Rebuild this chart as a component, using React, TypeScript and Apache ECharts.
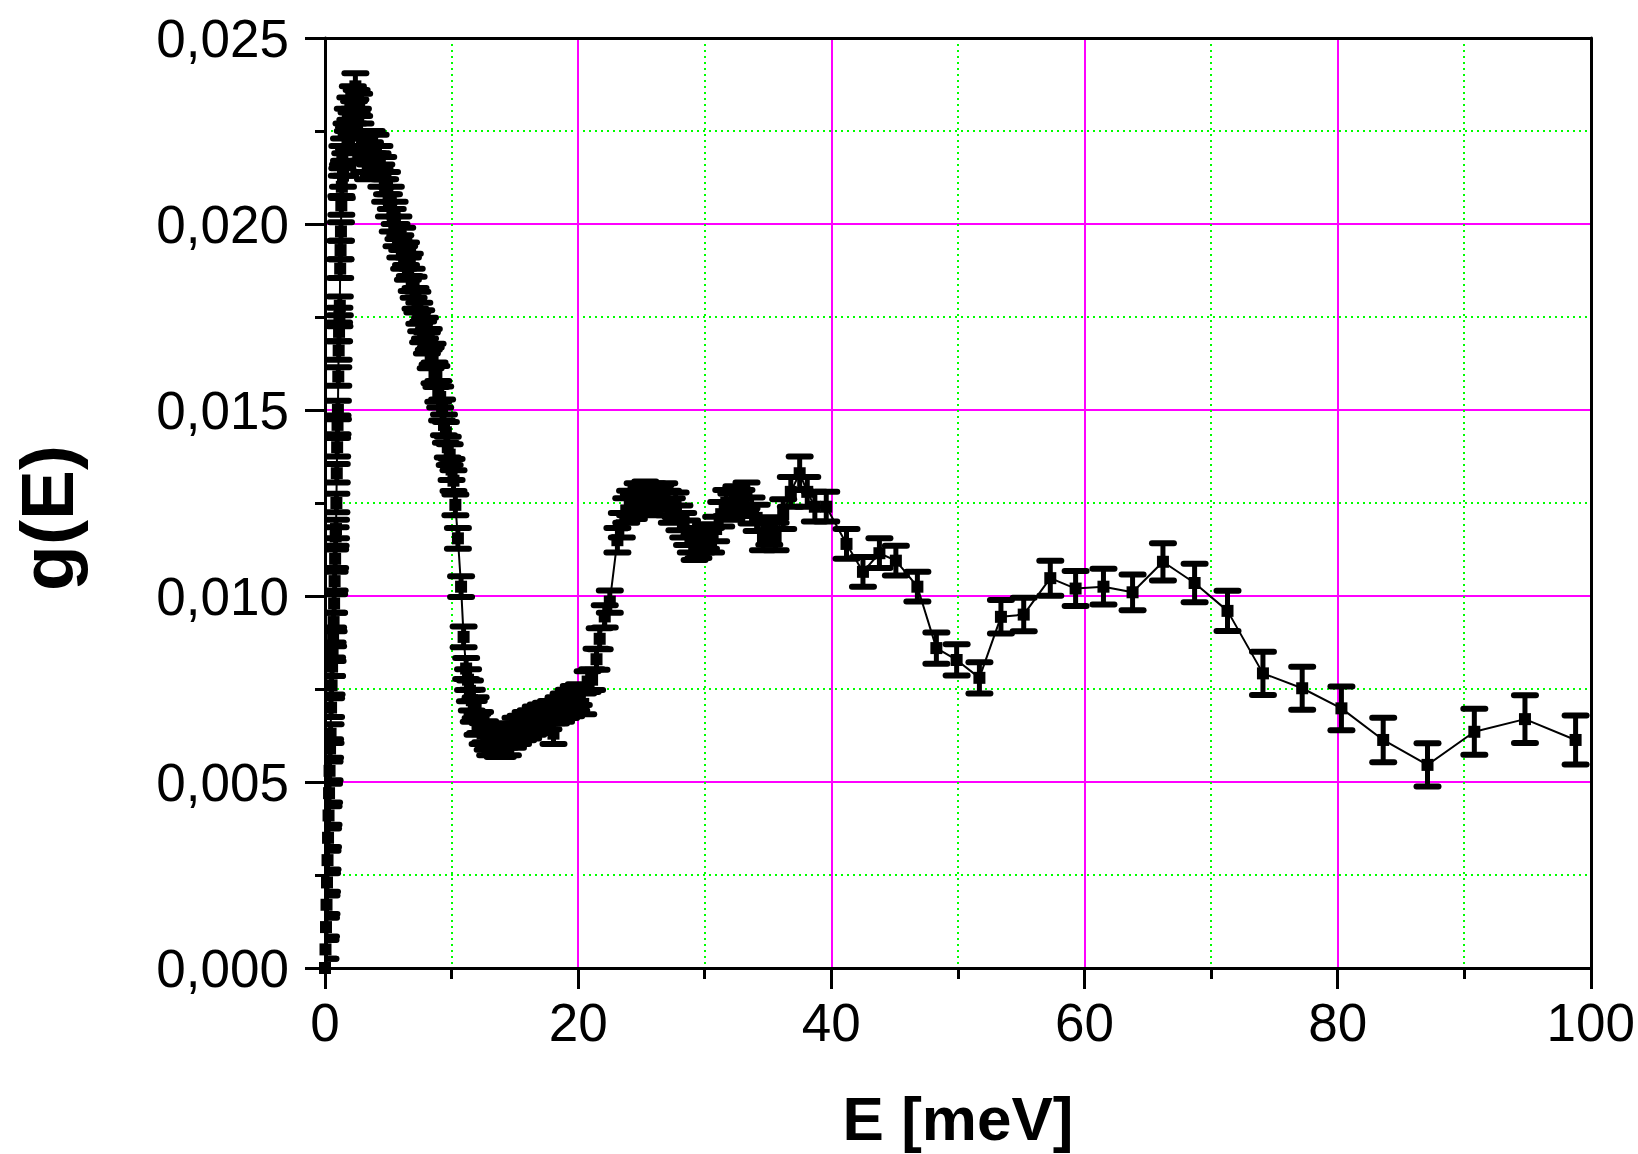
import React, { useEffect, useRef } from "react";
import * as echarts from "echarts";

// [E (meV), g(E), error]
const riseSeg: number[][] = [
  [0.0, 0.0, 0.00025], [0.04, 0.0005, 0.00025], [0.08, 0.0011, 0.00025], [0.12, 0.0017, 0.00025],
  [0.16, 0.0023, 0.00025], [0.2, 0.0029, 0.00025], [0.24, 0.0035, 0.00025], [0.28, 0.0041, 0.00025],
  [0.32, 0.0047, 0.00025], [0.36, 0.0053, 0.00025], [0.4, 0.0059, 0.00025], [0.44, 0.0063, 0.00025],
  [0.48, 0.007, 0.00025], [0.52, 0.0076, 0.00025], [0.56, 0.0081, 0.00025], [0.6, 0.0085, 0.00025],
  [0.64, 0.0089, 0.00025], [0.68, 0.0093, 0.00025], [0.72, 0.0098, 0.00025], [0.76, 0.0104, 0.00025],
  [0.8, 0.011, 0.00025], [0.84, 0.0116, 0.00025], [0.87, 0.0118, 0.00025], [0.9, 0.0125, 0.00025],
  [0.93, 0.0133, 0.00025], [0.96, 0.014, 0.00025], [0.99, 0.0146, 0.00025], [1.02, 0.015, 0.00025],
  [1.05, 0.0159, 0.00025], [1.08, 0.0166, 0.00025], [1.11, 0.0171, 0.00025], [1.14, 0.0175, 0.00025],
  [1.17, 0.0178, 0.00025], [1.2, 0.0188, 0.00025], [1.23, 0.0193, 0.00025], [1.26, 0.0198, 0.00025],
  [1.29, 0.0205, 0.00025],
];

const peakSeg: number[][] = [
  [1.33, 0.021, 0.0003], [1.37, 0.0218, 0.0003], [1.42, 0.0213, 0.0003], [1.5, 0.022, 0.0003],
  [1.6, 0.0216, 0.0003], [1.7, 0.0224, 0.0003], [1.8, 0.0228, 0.0003], [1.9, 0.0223, 0.0003],
  [2.0, 0.0231, 0.0003], [2.1, 0.0227, 0.0003], [2.2, 0.0234, 0.0003], [2.3, 0.023, 0.0003],
  [2.4, 0.0237, 0.00035], [2.5, 0.0233, 0.0003], [2.6, 0.0228, 0.0003], [2.7, 0.0232, 0.0003],
  [2.8, 0.0224, 0.0003], [2.95, 0.022, 0.0003], [3.1, 0.0217, 0.0003], [3.25, 0.0221, 0.0003],
  [3.4, 0.0215, 0.0003], [3.55, 0.0219, 0.0003], [3.7, 0.0222, 0.0003], [3.85, 0.0216, 0.0003],
  [4.0, 0.0221, 0.0003], [4.15, 0.0216, 0.0003], [4.3, 0.0218, 0.0003], [4.45, 0.0213, 0.0003],
  [4.6, 0.0215, 0.0003], [4.75, 0.0209, 0.0003], [4.9, 0.0211, 0.0003], [5.05, 0.0205, 0.0003],
  [5.2, 0.0207, 0.0003], [5.35, 0.0201, 0.0003], [5.5, 0.0203, 0.0003], [5.65, 0.0197, 0.0003],
  [5.8, 0.0199, 0.0003], [5.95, 0.0194, 0.0003], [6.1, 0.0196, 0.0003], [6.25, 0.0191, 0.0003],
  [6.4, 0.0192, 0.0003], [6.55, 0.0188, 0.0003], [6.7, 0.0189, 0.0003], [6.85, 0.0185, 0.0003],
];

const descentSeg: number[][] = [
  [7.0, 0.0183, 0.00028], [7.15, 0.018, 0.00028], [7.3, 0.0179, 0.00028], [7.45, 0.0176, 0.00028],
  [7.6, 0.0174, 0.00028], [7.75, 0.0171, 0.00028], [7.9, 0.0172, 0.00028], [8.05, 0.0168, 0.00028],
  [8.2, 0.0169, 0.00028], [8.35, 0.0164, 0.00028], [8.5, 0.0165, 0.00028], [8.65, 0.016, 0.00028],
  [8.8, 0.0159, 0.00028], [8.95, 0.0155, 0.00028], [9.1, 0.01535, 0.00028], [9.25, 0.015, 0.00028],
  [9.4, 0.0146, 0.00028], [9.55, 0.0144, 0.00028], [9.7, 0.014, 0.00028], [9.85, 0.0138, 0.00028],
  [10.0, 0.0134, 0.00028], [10.15, 0.0131, 0.00028], [10.3, 0.01245, 0.00028], [10.5, 0.01155, 0.00028],
  [10.75, 0.01025, 0.00028], [10.95, 0.0089, 0.00028],
];

const valleySeg: number[][] = [
  [11.15, 0.00805, 0.00028], [11.3, 0.00775, 0.00028], [11.45, 0.00745, 0.00028], [11.6, 0.0072, 0.00028],
  [11.75, 0.0069, 0.00028], [11.9, 0.007, 0.00028], [12.05, 0.00655, 0.00028], [12.25, 0.0066, 0.00028],
  [12.45, 0.0063, 0.00028], [12.65, 0.00635, 0.00028], [12.85, 0.00615, 0.00028], [13.05, 0.006, 0.00028],
  [13.25, 0.0062, 0.00028], [13.45, 0.00605, 0.00028], [13.65, 0.00595, 0.00028], [13.85, 0.0061, 0.00028],
  [14.05, 0.00595, 0.00028], [14.25, 0.0062, 0.00028], [14.45, 0.006, 0.00028], [14.65, 0.0063, 0.00028],
  [14.85, 0.0062, 0.00028], [15.05, 0.00645, 0.00028], [15.25, 0.0063, 0.00028], [15.45, 0.0065, 0.00028],
  [15.65, 0.0064, 0.00028], [15.85, 0.0066, 0.00028], [16.05, 0.00645, 0.00028], [16.25, 0.00665, 0.00028],
  [16.45, 0.00655, 0.00028], [16.65, 0.00675, 0.00028], [16.85, 0.0066, 0.00028], [17.05, 0.0068, 0.00028],
  [17.25, 0.0067, 0.00028], [17.45, 0.00685, 0.00028], [17.65, 0.0067, 0.00028], [17.85, 0.0069, 0.00028],
  [18.05, 0.0063, 0.00028], [18.25, 0.00685, 0.00028], [18.45, 0.007, 0.00028], [18.65, 0.0069, 0.00028],
  [18.85, 0.0071, 0.00028], [19.05, 0.007, 0.00028], [19.25, 0.0072, 0.00028], [19.45, 0.00705, 0.00028],
  [19.65, 0.0073, 0.00028], [19.85, 0.0072, 0.00028], [20.05, 0.00735, 0.00028], [20.4, 0.0071, 0.00028],
  [20.75, 0.0077, 0.00028], [21.1, 0.00775, 0.00028], [21.45, 0.0083, 0.00028], [21.7, 0.00885, 0.00028],
  [22.1, 0.00945, 0.0003], [22.5, 0.00985, 0.0003],
];

const shoulderSeg: number[][] = [
  [23.1, 0.0115, 0.00033], [23.45, 0.0119, 0.00033], [23.8, 0.0123, 0.00033], [24.1, 0.0125, 0.00033],
  [24.4, 0.0124, 0.00033], [24.7, 0.0127, 0.00033], [25.0, 0.0126, 0.00033], [25.3, 0.01275, 0.00033],
  [25.6, 0.0126, 0.00033], [25.9, 0.0127, 0.00033], [26.2, 0.0125, 0.00033], [26.5, 0.01265, 0.00033],
  [26.8, 0.0127, 0.00033], [27.1, 0.0125, 0.00033], [27.4, 0.0123, 0.00033], [27.7, 0.01245, 0.00033],
  [28.0, 0.0121, 0.00033], [28.3, 0.0119, 0.00033], [28.6, 0.0117, 0.00033], [28.9, 0.0115, 0.00033],
  [29.2, 0.0113, 0.00033], [29.5, 0.01135, 0.00033], [29.8, 0.0115, 0.00033], [30.1, 0.0116, 0.00033],
  [30.5, 0.0115, 0.00033], [30.9, 0.0118, 0.00033], [31.3, 0.0122, 0.00033], [31.7, 0.0125, 0.00035],
  [32.1, 0.0124, 0.00035], [32.5, 0.0126, 0.00035], [32.9, 0.0125, 0.00035], [33.3, 0.0127, 0.00035],
  [33.7, 0.0123, 0.00035], [34.1, 0.0121, 0.00035], [34.6, 0.0116, 0.00037], [35.1, 0.01175, 0.00037],
  [35.6, 0.0116, 0.00037],
];

const secondPeakSeg: number[][] = [
  [36.2, 0.0122, 0.0004], [36.8, 0.0128, 0.0004], [37.5, 0.0133, 0.00045], [38.1, 0.0128, 0.0004],
  [38.7, 0.0124, 0.0004], [39.6, 0.0124, 0.0004], [41.2, 0.0114, 0.0004], [42.5, 0.01065, 0.0004],
  [43.8, 0.01115, 0.0004], [45.1, 0.01095, 0.0004], [46.8, 0.01025, 0.0004], [48.3, 0.0086, 0.00042],
  [49.9, 0.00828, 0.00042], [51.7, 0.0078, 0.00042],
];

const tailSeg: number[][] = [
  [53.4, 0.00944, 0.00045], [55.2, 0.0095, 0.00045], [57.3, 0.01048, 0.00047], [59.3, 0.0102, 0.00047],
  [61.5, 0.01025, 0.00048], [63.8, 0.0101, 0.00048], [66.2, 0.01092, 0.0005], [68.7, 0.01035, 0.00052],
  [71.3, 0.0096, 0.00054], [74.1, 0.00792, 0.00058], [77.2, 0.00752, 0.00058], [80.3, 0.00698, 0.00059],
  [83.6, 0.00613, 0.0006], [87.1, 0.00546, 0.00058], [90.8, 0.00635, 0.00062], [94.8, 0.00669, 0.00064],
  [98.8, 0.00613, 0.00066],
];

const xTicks = { min: 0, max: 100, interval: 20 };
const yTicks = { min: 0, max: 0.025, interval: 0.005 };

const FONT = "'Liberation Sans', Arial, Helvetica, sans-serif";

export default function App() {
  const ref = useRef<HTMLDivElement>(null);

  useEffect(() => {
    document.body.style.margin = "0";
    if (!ref.current) return;
    const chart = echarts.init(ref.current, undefined, { renderer: "svg" });

    const allPoints = [
      ...riseSeg,
      ...peakSeg,
      ...descentSeg,
      ...valleySeg,
      ...shoulderSeg,
      ...secondPeakSeg,
      ...tailSeg,
    ];
    const lineData = allPoints.map((p) => [p[0], p[1]]);

    const axisBlack = { color: "#000", width: 3 };

    const option: any = {
      animation: false,
      backgroundColor: "#ffffff",
      grid: { left: 325, right: 47, top: 38, bottom: 186, containLabel: false },
      xAxis: [
        {
          type: "value",
          min: xTicks.min,
          max: xTicks.max,
          interval: xTicks.interval,
          position: "bottom",
          axisLine: { show: true, onZero: false, lineStyle: axisBlack },
          axisTick: { show: true, length: 21, lineStyle: { color: "#000", width: 3 } },
          minorTick: { show: true, splitNumber: 2, length: 11, lineStyle: { color: "#000", width: 3 } },
          axisLabel: { fontSize: 53, color: "#000", margin: 28, fontFamily: FONT },
          splitLine: { show: true, lineStyle: { color: "#ff00ff", width: 2 } },
          minorSplitLine: { show: true, lineStyle: { color: "#00ff00", width: 2, type: [2, 4] } },
        },
        {
          type: "value",
          min: xTicks.min,
          max: xTicks.max,
          position: "top",
          axisLine: { show: true, onZero: false, lineStyle: axisBlack },
          axisTick: { show: false },
          axisLabel: { show: false },
          splitLine: { show: false },
        },
      ],
      yAxis: [
        {
          type: "value",
          min: yTicks.min,
          max: yTicks.max,
          interval: yTicks.interval,
          position: "left",
          axisLine: { show: true, onZero: false, lineStyle: axisBlack },
          axisTick: { show: true, length: 20, lineStyle: { color: "#000", width: 3 } },
          minorTick: { show: true, splitNumber: 2, length: 10, lineStyle: { color: "#000", width: 3 } },
          axisLabel: {
            fontSize: 53,
            color: "#000",
            margin: 36,
            fontFamily: FONT,
            formatter: (v: number) => v.toFixed(3).replace(".", ","),
          },
          splitLine: { show: true, lineStyle: { color: "#ff00ff", width: 2 } },
          minorSplitLine: { show: true, lineStyle: { color: "#00ff00", width: 2, type: [2, 4] } },
        },
        {
          type: "value",
          min: yTicks.min,
          max: yTicks.max,
          position: "right",
          axisLine: { show: true, onZero: false, lineStyle: axisBlack },
          axisTick: { show: false },
          axisLabel: { show: false },
          splitLine: { show: false },
        },
      ],
      graphic: [
        {
          type: "text",
          x: 958,
          y: 1118,
          style: {
            text: "E [meV]",
            fontSize: 62,
            fontWeight: "bold",
            fontFamily: FONT,
            fill: "#000",
            align: "center",
            verticalAlign: "middle",
          },
        },
        {
          type: "text",
          x: 47,
          y: 518,
          rotation: Math.PI / 2,
          style: {
            text: "g(E)",
            fontSize: 75,
            fontWeight: "bold",
            fontFamily: FONT,
            fill: "#000",
            align: "center",
            verticalAlign: "middle",
          },
        },
      ],
      series: [
        {
          type: "custom",
          xAxisIndex: 0,
          yAxisIndex: 0,
          clip: true,
          data: allPoints,
          renderItem: (params: any, api: any) => {
            const x = api.value(0);
            const y = api.value(1);
            const e = api.value(2);
            const top = api.coord([x, y + e]);
            const bot = api.coord([x, y - e]);
            const hw = 11;
            return {
              type: "group",
              children: [
                {
                  type: "line",
                  shape: { x1: top[0], y1: top[1], x2: bot[0], y2: bot[1] },
                  style: { stroke: "#000", lineWidth: 5 },
                },
                {
                  type: "line",
                  shape: { x1: top[0] - hw, y1: top[1], x2: top[0] + hw, y2: top[1] },
                  style: { stroke: "#000", lineWidth: 6, lineCap: "round" },
                },
                {
                  type: "line",
                  shape: { x1: bot[0] - hw, y1: bot[1], x2: bot[0] + hw, y2: bot[1] },
                  style: { stroke: "#000", lineWidth: 6, lineCap: "round" },
                },
              ],
            };
          },
          z: 3,
        },
        {
          type: "line",
          xAxisIndex: 0,
          yAxisIndex: 0,
          data: lineData,
          showAllSymbol: true,
          symbol: "rect",
          symbolSize: 12,
          itemStyle: { color: "#000" },
          lineStyle: { color: "#000", width: 2 },
          z: 4,
        },
      ],
    };

    chart.setOption(option);
    return () => chart.dispose();
  }, []);

  return <div ref={ref} style={{ width: 1638, height: 1154 }} />;
}
